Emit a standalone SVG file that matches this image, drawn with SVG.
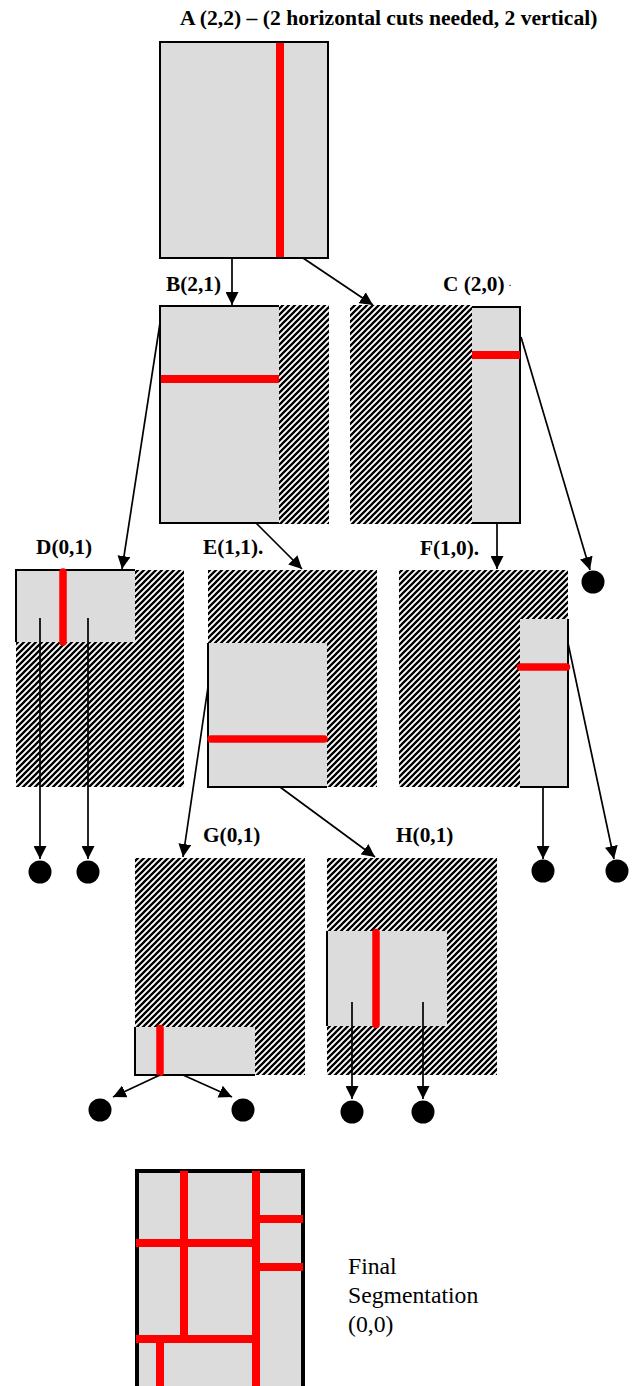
<svg xmlns="http://www.w3.org/2000/svg" width="634" height="1386" viewBox="0 0 634 1386">
<style>
.gray{fill:#dcdcdc}
.hatch{fill:url(#hatch)}
.box{fill:#dcdcdc;stroke:#000;stroke-width:2}
.edge{fill:none;stroke:#000;stroke-width:2}
.cut{stroke:#ff0000;stroke-width:8;stroke-linecap:butt}
.rcut{stroke:#ff0000;stroke-width:7.5;stroke-linecap:round}
.lbl{font-family:"Liberation Serif","Times New Roman",serif;font-weight:bold;font-size:21.3px;fill:#000}
.title{font-family:"Liberation Serif","Times New Roman",serif;font-weight:bold;font-size:21.6px;fill:#000}
.plain{font-family:"Liberation Serif","Times New Roman",serif;font-size:23.7px;fill:#000}
.conn line{stroke:#000;stroke-width:1.7;marker-end:url(#arr)}
.leaf{fill:#000}
</style>
<defs>
<pattern id="hatch" patternUnits="userSpaceOnUse" width="6" height="6">
<rect width="6" height="6" fill="#fff"/>
<path d="M-1.5,1.5 L1.5,-1.5 M0,6 L6,0 M4.5,7.5 L7.5,4.5" stroke="#000" stroke-width="2.3"/>
</pattern>
<marker id="arr" markerUnits="userSpaceOnUse" viewBox="0 0 13 13" markerWidth="13" markerHeight="13" refX="13" refY="6.5" orient="auto">
<path d="M0,0 L13,6.5 L0,13 z" fill="#000"/>
</marker>
</defs>
<rect width="634" height="1386" fill="#fff"/>

<text class="title" x="180" y="25">A (2,2) – (2 horizontal cuts needed, 2 vertical)</text>

<g id="nodeA">
<rect class="box" x="160" y="42" width="168" height="216"/>
<line class="cut" x1="280" y1="43" x2="280" y2="257"/>
</g>

<g id="nodeB">
<text class="lbl" x="166" y="291">B(2,1)</text>
<rect class="box" x="160" y="306" width="168" height="217"/>
<rect class="hatch" x="279" y="305" width="50" height="219"/>
<line class="cut" x1="161" y1="379" x2="279" y2="379"/>
</g>

<g id="nodeC">
<text class="lbl" x="443" y="291">C (2,0)</text>
<text class="lbl" x="509" y="286" style="font-size:8px">.</text>
<rect class="box" x="351" y="307" width="169" height="216"/>
<rect class="hatch" x="350" y="305" width="122" height="219"/>
<line class="cut" x1="472" y1="355" x2="520" y2="355"/>
</g>

<g id="nodeD">
<text class="lbl" x="36" y="554">D(0,1)</text>
<rect class="hatch" x="16" y="570" width="168" height="217"/>
<rect class="gray" x="16" y="570" width="119" height="72"/>
<path class="edge" d="M16,642 V570 H135"/>
<line class="rcut" x1="63" y1="572" x2="63" y2="642"/>
</g>

<g id="nodeE">
<text class="lbl" x="203" y="554">E(1,1).</text>
<rect class="hatch" x="208" y="570" width="169" height="217"/>
<rect class="gray" x="208" y="643" width="119" height="144"/>
<path class="edge" d="M208,643 V787 H327"/>
<line class="rcut" x1="211" y1="739" x2="324" y2="739"/>
</g>

<g id="nodeF">
<text class="lbl" x="420" y="555">F(1,0).</text>
<rect class="hatch" x="399" y="570" width="169" height="217"/>
<rect class="gray" x="520" y="619" width="48" height="168"/>
<path class="edge" d="M568,619 V787 H520"/>
<line class="rcut" x1="520.5" y1="667" x2="566.5" y2="667"/>
</g>

<g id="nodeG">
<text class="lbl" x="203" y="842">G(0,1)</text>
<rect class="hatch" x="135" y="858" width="170" height="217"/>
<rect class="gray" x="135" y="1027" width="120" height="48"/>
<path class="edge" d="M135,1027 V1075 H255"/>
<line class="rcut" x1="160" y1="1028.5" x2="160" y2="1072.5"/>
</g>

<g id="nodeH">
<text class="lbl" x="396" y="842">H(0,1)</text>
<rect class="hatch" x="327" y="858" width="170" height="217"/>
<rect class="gray" x="327" y="931" width="120" height="95"/>
<path class="edge" d="M327,931 V1026"/>
<line class="rcut" x1="376" y1="932.5" x2="376" y2="1024.5"/>
</g>

<g id="nodeFinal">
<rect class="box" x="137" y="1171" width="166" height="222" style="stroke-width:4"/>
<line class="cut" x1="184" y1="1171" x2="184" y2="1335"/>
<line class="cut" x1="256" y1="1171" x2="256" y2="1386"/>
<line class="cut" x1="259" y1="1219" x2="303" y2="1219"/>
<line class="cut" x1="136" y1="1243" x2="256" y2="1243"/>
<line class="cut" x1="259" y1="1267" x2="303" y2="1267"/>
<line class="cut" x1="136" y1="1339" x2="256" y2="1339"/>
<line class="cut" x1="160" y1="1339" x2="160" y2="1386"/>
<text class="plain" x="348" y="1274">Final</text>
<text class="plain" x="348" y="1303">Segmentation</text>
<text class="plain" x="348" y="1332">(0,0)</text>
</g>

<g id="leaves">
<circle id="leafC" class="leaf" cx="593" cy="582" r="11.5"/>
<circle id="leafD1" class="leaf" cx="40" cy="872" r="11.5"/>
<circle id="leafD2" class="leaf" cx="88" cy="872" r="11.5"/>
<circle id="leafF1" class="leaf" cx="543" cy="871" r="11.5"/>
<circle id="leafF2" class="leaf" cx="617" cy="871" r="11.5"/>
<circle id="leafG1" class="leaf" cx="100" cy="1110" r="11.5"/>
<circle id="leafG2" class="leaf" cx="243" cy="1110" r="11.5"/>
<circle id="leafH1" class="leaf" cx="352" cy="1112" r="11.5"/>
<circle id="leafH2" class="leaf" cx="423" cy="1112" r="11.5"/>
</g>

<g id="connectors" class="conn">
<line x1="232" y1="258" x2="232" y2="305"/>
<line x1="303" y1="258" x2="373" y2="305"/>
<line x1="160" y1="323" x2="122" y2="569"/>
<line x1="256" y1="523" x2="302" y2="569"/>
<line x1="497" y1="523" x2="497" y2="569"/>
<line x1="521" y1="337" x2="590" y2="570"/>
<line x1="40" y1="618" x2="40" y2="859"/>
<line x1="88" y1="618" x2="88" y2="859"/>
<line x1="208" y1="687" x2="183" y2="857"/>
<line x1="280" y1="787" x2="375" y2="857"/>
<line x1="543" y1="787" x2="543" y2="859"/>
<line x1="568" y1="643" x2="614" y2="859"/>
<line x1="160" y1="1075" x2="113" y2="1097"/>
<line x1="183" y1="1075" x2="232" y2="1097"/>
<line x1="352" y1="1002" x2="352" y2="1099"/>
<line x1="423" y1="1002" x2="423" y2="1099"/>
</g>
</svg>
